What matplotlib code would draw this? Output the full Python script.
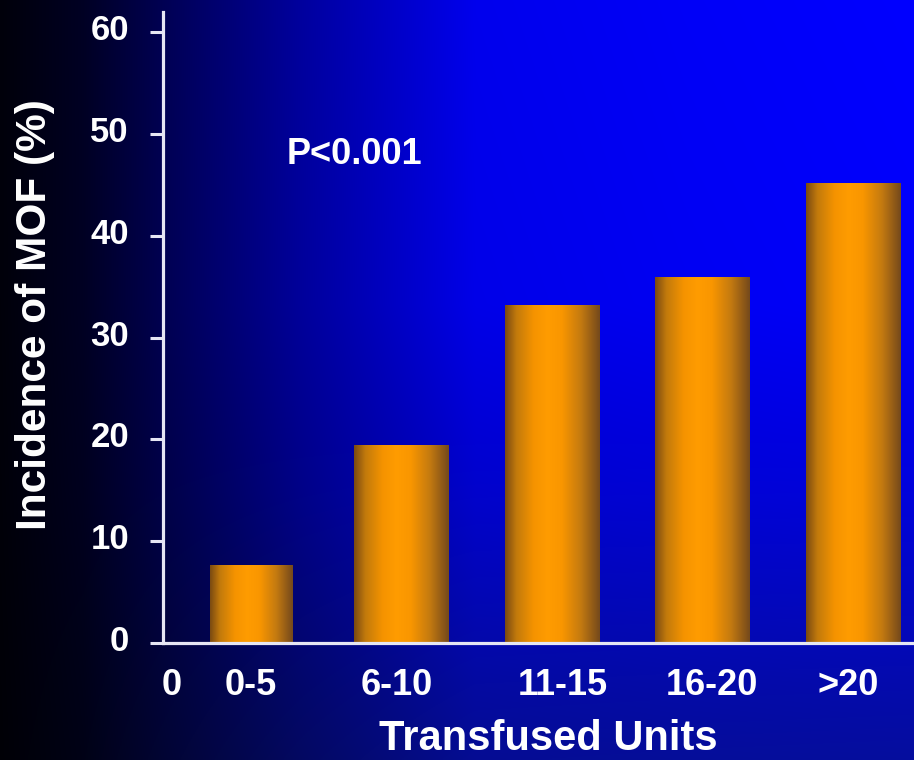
import numpy as np
import matplotlib
matplotlib.use("Agg")
import matplotlib.pyplot as plt
from matplotlib.colors import LinearSegmentedColormap
from matplotlib.transforms import ScaledTranslation

# Data
categories = ["0-5", "6-10", "11-15", "16-20", ">20"]
incidence = [7.7, 19.5, 33.2, 36.0, 45.2]
y_ticks = [0, 10, 20, 30, 40, 50, 60]

W, H, DPI = 914, 760, 100
fig = plt.figure(figsize=(W / DPI, H / DPI), dpi=DPI)
plt.rcParams['font.family'] = ['Liberation Sans', 'DejaVu Sans']

# Background: black on the left fading to bright blue, a little darker low down
bg = fig.add_axes([0, 0, 1, 1], zorder=-10)
xs = np.linspace(0, 1, 400)
ys = np.linspace(0, 1, 300)
hx = np.interp(xs, [0, 0.09, 0.18, 0.33, 0.52, 0.75, 1.0],
               [0.04, 0.14, 0.33, 0.62, 0.93, 0.97, 1.0])
vy = np.interp(ys, [0, 0.4, 0.65, 0.9, 1.0], [1.0, 0.98, 0.86, 0.68, 0.62])
B = np.outer(vy, hx)
G = np.outer(np.clip(ys - 0.55, 0, None) * 0.12, hx)
img = np.dstack([G * 0.4, G, B])
bg.imshow(img, aspect="auto", extent=(0, 1, 1, 0), interpolation="bilinear")
bg.set_xlim(0, 1)
bg.set_ylim(1, 0)
bg.axis("off")

# Main axes in pixel layout
left, right, bottom, top = 163, 914, 643, 12
ax = fig.add_axes([left / W, 1 - bottom / H, (right - left) / W, (bottom - top) / H])
ax.patch.set_alpha(0)

xmin, xmax = 0.415, 5.405
ymax = 62
positions = np.arange(1, len(categories) + 1)
widths = [0.55, 0.63, 0.63, 0.63, 0.63]

bar_cmap = LinearSegmentedColormap.from_list(
    "cyl", [(0.0, "#7a4a12"), (0.12, "#c27a0c"), (0.3, "#f59300"),
            (0.45, "#ff9c00"), (0.6, "#f99600"), (0.8, "#c47a10"),
            (1.0, "#74491c")])
grad = np.linspace(0, 1, 256).reshape(1, -1)

bars = ax.bar(positions, incidence, width=widths, color="none", edgecolor="none")
for rect in bars:
    x0 = rect.get_x()
    x1 = x0 + rect.get_width()
    h = rect.get_height()
    im = ax.imshow(grad, cmap=bar_cmap, aspect="auto", extent=(x0, x1, 0, h),
                   interpolation="bicubic", zorder=2)
    im.set_clip_path(rect)

ax.set_xlim(xmin, xmax)
ax.set_ylim(0, ymax)

axis_col = "#e6e6f4"
for s in ["top", "right"]:
    ax.spines[s].set_visible(False)
for s in ["left", "bottom"]:
    ax.spines[s].set_color(axis_col)
    ax.spines[s].set_linewidth(2.3)
    ax.spines[s].set_zorder(3)

ax.set_yticks(y_ticks)
ax.set_yticklabels([str(v) for v in y_ticks])
ax.tick_params(axis="y", direction="out", length=9.5, width=2.2, color=axis_col,
               labelcolor="white", labelsize=25, pad=15)
for lab in ax.get_yticklabels():
    lab.set_fontweight("bold")
    lab.set_transform(lab.get_transform() + ScaledTranslation(0, 5 / DPI, fig.dpi_scale_trans))

# Category labels along the x axis, with the lone "0" at the origin
label_x = [0.475, 1.0, 1.97, 3.07, 4.06, 4.97]
ax.set_xticks(label_x)
ax.set_xticklabels(["0"] + categories)
ax.tick_params(axis="x", length=0, labelcolor="white", labelsize=26, pad=18)
for lab in ax.get_xticklabels():
    lab.set_fontweight("bold")

fig.text(35 / W, 1 - 315 / H, "Incidence of MOF (%)", rotation=90, color="white",
         fontsize=30.5, fontweight="bold", ha="center", va="center")
fig.text(548 / W, 0.5 / H, "Transfused Units", color="white",
         fontsize=30, fontweight="bold", ha="center", va="bottom")
fig.text(287 / W, 1 - 154 / H, "P<0.001", color="white",
         fontsize=26, fontweight="bold", ha="left", va="center")

fig.savefig("out.png", dpi=DPI)
